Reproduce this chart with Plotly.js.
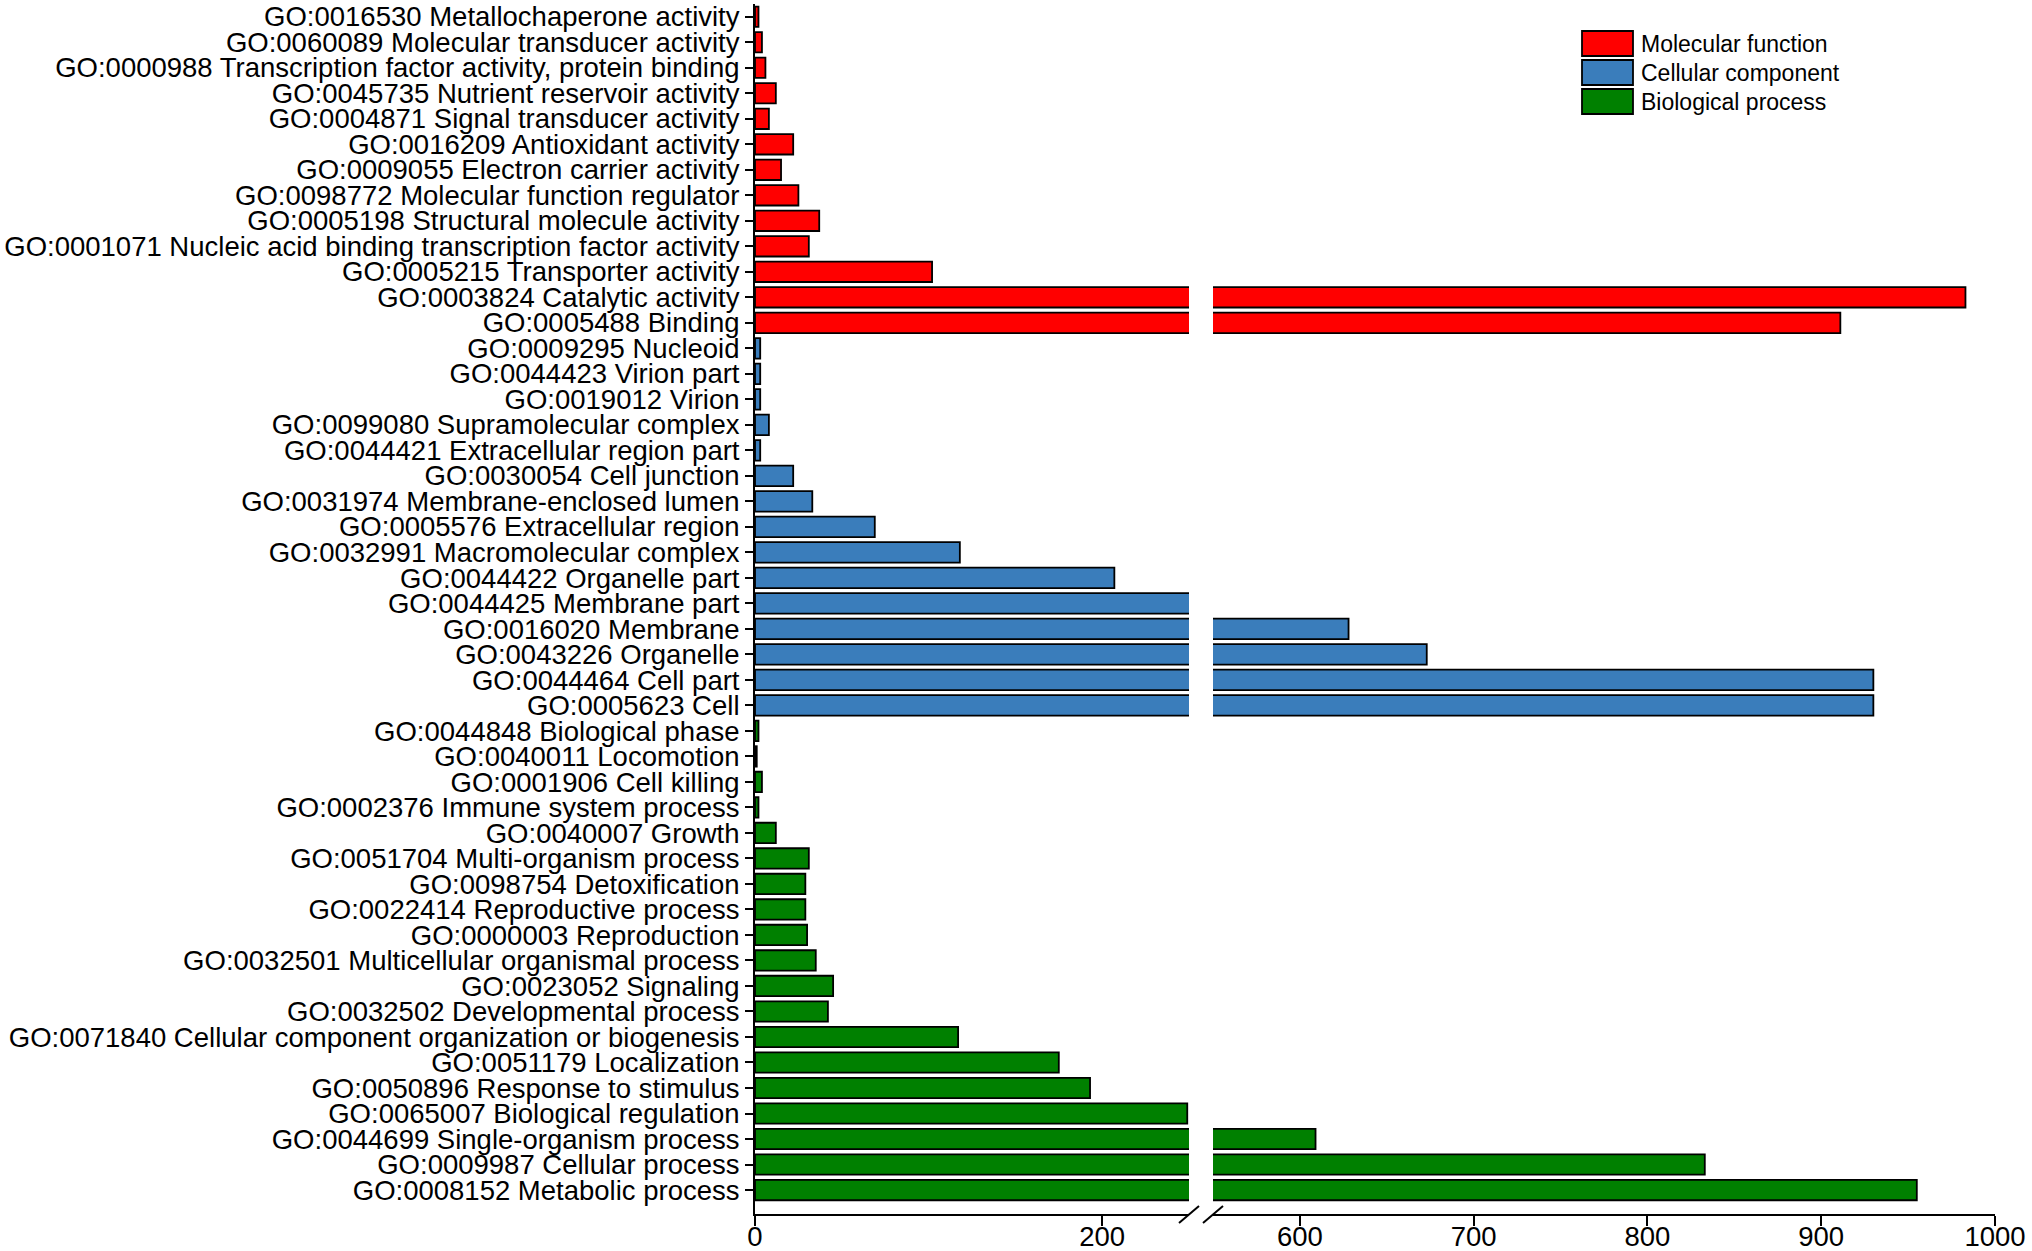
<!DOCTYPE html>
<html>
<head>
<meta charset="utf-8">
<script src="https://cdn.plot.ly/plotly-3.0.1.min.js"></script>
<style>
  html, body { margin: 0; padding: 0; background: #fff; }
  #chart { width: 2032px; height: 1251px; }
</style>
</head>
<body>
<div id="chart"></div>
<script>
// GO terms, top to bottom, per category
const mfTerms = [
    'GO:0016530 Metallochaperone activity',
    'GO:0060089 Molecular transducer activity',
    'GO:0000988 Transcription factor activity, protein binding',
    'GO:0045735 Nutrient reservoir activity',
    'GO:0004871 Signal transducer activity',
    'GO:0016209 Antioxidant activity',
    'GO:0009055 Electron carrier activity',
    'GO:0098772 Molecular function regulator',
    'GO:0005198 Structural molecule activity',
    'GO:0001071 Nucleic acid binding transcription factor activity',
    'GO:0005215 Transporter activity',
    'GO:0003824 Catalytic activity',
    'GO:0005488 Binding'
];
const mfCounts = [2, 4, 6, 12, 8, 22, 15, 25, 37, 31, 102, 983, 911];

const ccTerms = [
    'GO:0009295 Nucleoid',
    'GO:0044423 Virion part',
    'GO:0019012 Virion',
    'GO:0099080 Supramolecular complex',
    'GO:0044421 Extracellular region part',
    'GO:0030054 Cell junction',
    'GO:0031974 Membrane-enclosed lumen',
    'GO:0005576 Extracellular region',
    'GO:0032991 Macromolecular complex',
    'GO:0044422 Organelle part',
    'GO:0044425 Membrane part',
    'GO:0016020 Membrane',
    'GO:0043226 Organelle',
    'GO:0044464 Cell part',
    'GO:0005623 Cell'
];
const ccCounts = [3, 3, 3, 8, 3, 22, 33, 69, 118, 207, 480, 628, 673, 930, 930];

const bpTerms = [
    'GO:0044848 Biological phase',
    'GO:0040011 Locomotion',
    'GO:0001906 Cell killing',
    'GO:0002376 Immune system process',
    'GO:0040007 Growth',
    'GO:0051704 Multi-organism process',
    'GO:0098754 Detoxification',
    'GO:0022414 Reproductive process',
    'GO:0000003 Reproduction',
    'GO:0032501 Multicellular organismal process',
    'GO:0023052 Signaling',
    'GO:0032502 Developmental process',
    'GO:0071840 Cellular component organization or biogenesis',
    'GO:0051179 Localization',
    'GO:0050896 Response to stimulus',
    'GO:0065007 Biological regulation',
    'GO:0044699 Single-organism process',
    'GO:0009987 Cellular process',
    'GO:0008152 Metabolic process'
];
const bpCounts = [2, 1, 4, 2, 12, 31, 29, 29, 30, 35, 45, 42, 117, 175, 193, 249, 609, 833, 955];

const groupNames = ['Molecular function', 'Cellular component', 'Biological process'];
const groupColors = ['#ff0000', '#3a7dbb', '#008000'];

// broken x axis: two segments with the same scale
const lowRange = [0, 250];
const highRange = [550, 1000];
const lowTicks = [0, 200];
const highTicks = [600, 700, 800, 900, 1000];

const groups = [
    { terms: mfTerms, counts: mfCounts },
    { terms: ccTerms, counts: ccCounts },
    { terms: bpTerms, counts: bpCounts }
];
const allTerms = [].concat(mfTerms, ccTerms, bpTerms);

const traces = [];
['x', 'x2'].forEach(ax => {
    groups.forEach((g, i) => {
        traces.push({
            type: 'bar',
            orientation: 'h',
            x: g.counts,
            y: g.terms,
            xaxis: ax,
            yaxis: 'y',
            name: groupNames[i],
            showlegend: false,
            marker: { color: groupColors[i], line: { color: '#000000', width: 1.8 } },
            hovertemplate: '%{y}: %{x}<extra></extra>'
        });
    });
});

const W = 2032, H = 1251;
const margin = { l: 755, r: 37, t: 4, b: 37 };
const plotW = W - margin.l - margin.r;
const plotH = H - margin.t - margin.b;
const splitL = 434 / plotW;
const splitR = 458 / plotW;

const axisFont = { family: 'Liberation Sans, Arial, sans-serif', size: 27.5, color: '#000' };

// break marks on the x axis
const shapes = [];
[splitL, splitR].forEach(d => {
    shapes.push({
        type: 'line', xref: 'paper', yref: 'paper',
        x0: d - 10 / plotW, x1: d + 10 / plotW,
        y0: -9 / plotH, y1: 8 / plotH,
        line: { color: '#000', width: 2 }
    });
});

// legend drawn as boxes + labels
const annotations = [];
const legX0 = (1582 - margin.l) / plotW;
const legX1 = (1633 - margin.l) / plotW;
groupNames.forEach((name, i) => {
    const top = 31 + i * 29;
    const yTop = (H - margin.b - top) / plotH;
    const yBot = (H - margin.b - top - 25) / plotH;
    shapes.push({
        type: 'rect', xref: 'paper', yref: 'paper',
        x0: legX0, x1: legX1, y0: yBot, y1: yTop,
        fillcolor: groupColors[i], line: { color: '#000', width: 1.8 }
    });
    annotations.push({
        xref: 'paper', yref: 'paper',
        x: (1639 - margin.l) / plotW, y: (yTop + yBot) / 2,
        xanchor: 'left', yanchor: 'middle',
        text: name, showarrow: false,
        font: { family: 'Liberation Sans, Arial, sans-serif', size: 23, color: '#000' }
    });
});

const xCommon = {
    ticks: 'outside', ticklen: 10, tickwidth: 2, tickcolor: '#000',
    showline: true, linecolor: '#000', linewidth: 2,
    showgrid: false, zeroline: false,
    anchor: 'y',
    tickmode: 'array',
    ticklabelstandoff: -13,
    tickfont: axisFont
};

const layout = {
    width: W,
    height: H,
    margin: margin,
    paper_bgcolor: '#ffffff',
    plot_bgcolor: '#ffffff',
    barmode: 'overlay',
    bargap: 0.2,
    showlegend: false,
    font: axisFont,
    xaxis: Object.assign({}, xCommon, { domain: [0, splitL], range: lowRange, tickvals: lowTicks }),
    xaxis2: Object.assign({}, xCommon, { domain: [splitR, 1], range: highRange, tickvals: highTicks }),
    yaxis: {
        type: 'category',
        categoryorder: 'array',
        categoryarray: allTerms,
        tickmode: 'array',
        tickvals: allTerms,
        ticktext: allTerms,
        range: [allTerms.length - 1 + 0.94, -0.5],
        ticks: 'outside', ticklen: 8, tickwidth: 2, tickcolor: '#000',
        showline: true, linecolor: '#000', linewidth: 2,
        showgrid: false, zeroline: false,
        anchor: 'x',
        tickfont: axisFont
    },
    shapes: shapes,
    annotations: annotations
};

Plotly.newPlot('chart', traces, layout, { displayModeBar: false, responsive: false });
</script>
</body>
</html>
